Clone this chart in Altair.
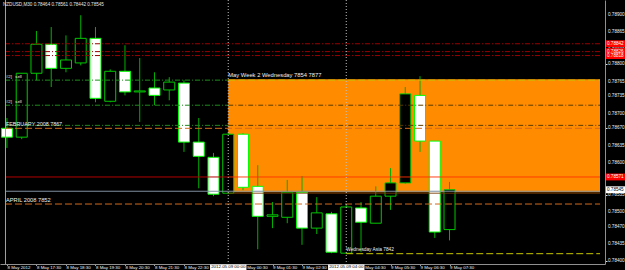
import altair as alt
import pandas as pd

# ---------------- data ----------------
bar_times = [
    "2012-05-08T16:30:00Z", "2012-05-08T17:00:00Z", "2012-05-08T17:30:00Z", "2012-05-08T18:00:00Z",
    "2012-05-08T18:30:00Z", "2012-05-08T19:00:00Z", "2012-05-08T19:30:00Z", "2012-05-08T20:00:00Z",
    "2012-05-08T20:30:00Z", "2012-05-08T21:00:00Z", "2012-05-08T21:30:00Z", "2012-05-08T22:00:00Z",
    "2012-05-08T22:30:00Z", "2012-05-08T23:00:00Z", "2012-05-08T23:30:00Z", "2012-05-09T00:00:00Z",
    "2012-05-09T00:30:00Z", "2012-05-09T01:00:00Z", "2012-05-09T01:30:00Z", "2012-05-09T02:00:00Z",
    "2012-05-09T02:30:00Z", "2012-05-09T03:00:00Z", "2012-05-09T03:30:00Z", "2012-05-09T04:00:00Z",
    "2012-05-09T04:30:00Z", "2012-05-09T05:00:00Z", "2012-05-09T05:30:00Z", "2012-05-09T06:00:00Z",
    "2012-05-09T06:30:00Z", "2012-05-09T07:00:00Z", "2012-05-09T07:30:00Z"]

opens = [0.78670, 0.78652, 0.78782, 0.78841, 0.78792, 0.78803, 0.78853, 0.78725, 0.78786, 0.78744,
         0.78752, 0.78748, 0.78762, 0.78642, 0.78611, 0.78538, 0.78658, 0.78552, 0.78491, 0.78489,
         0.78540, 0.78467, 0.78496, 0.78416, 0.78508, 0.78477, 0.78532, 0.78559, 0.78737, 0.78644,
         0.78464]
highs = [0.78691, 0.78782, 0.78868, 0.78876, 0.78859, 0.78900, 0.78876, 0.78790, 0.78839, 0.78813,
         0.78784, 0.78774, 0.78768, 0.78691, 0.78620, 0.78660, 0.78660, 0.78595, 0.78520, 0.78565,
         0.78573, 0.78530, 0.78500, 0.78514, 0.78520, 0.78552, 0.78589, 0.78754, 0.78776, 0.78644,
         0.78561]
lows = [0.78630, 0.78648, 0.78768, 0.78754, 0.78784, 0.78798, 0.78723, 0.78723, 0.78737, 0.78683,
        0.78717, 0.78727, 0.78622, 0.78548, 0.78532, 0.78536, 0.78544, 0.78424, 0.78467, 0.78477,
        0.78433, 0.78455, 0.78416, 0.78416, 0.78418, 0.78477, 0.78504, 0.78557, 0.78622, 0.78447,
        0.78442]
closes = [0.78652, 0.78782, 0.78841, 0.78792, 0.78809, 0.78853, 0.78731, 0.78786, 0.78744, 0.78746,
          0.78737, 0.78764, 0.78642, 0.78613, 0.78536, 0.78658, 0.78550, 0.78491, 0.78494, 0.78540,
          0.78467, 0.78498, 0.78418, 0.78510, 0.78479, 0.78532, 0.78559, 0.78740, 0.78644, 0.78459,
          0.78545]

# price axis tick labels
y_ticks = [0.78400, 0.78435, 0.78470, 0.78500, 0.78535, 0.78570, 0.78600, 0.78635,
           0.78670, 0.78700, 0.78735, 0.78765, 0.78800, 0.78830, 0.78865, 0.78900]

# time axis tick labels (23:30 and 03:30 sit under the vertical-line time boxes)
x_tick_times = ["2012-05-08T16:30:00Z", "2012-05-08T17:30:00Z", "2012-05-08T18:30:00Z",
                "2012-05-08T19:30:00Z", "2012-05-08T20:30:00Z", "2012-05-08T21:30:00Z",
                "2012-05-08T22:30:00Z", "2012-05-09T00:30:00Z",
                "2012-05-09T01:30:00Z", "2012-05-09T02:30:00Z",
                "2012-05-09T04:30:00Z", "2012-05-09T05:30:00Z", "2012-05-09T06:30:00Z",
                "2012-05-09T07:30:00Z"]
x_tick_labels = ["8 May 2012", "8 May 17:30", "8 May 18:30", "8 May 19:30", "8 May 20:30",
                 "8 May 21:30", "8 May 22:30", "9 May 00:30", "9 May 01:30",
                 "9 May 02:30", "9 May 04:30", "9 May 05:30", "9 May 06:30",
                 "9 May 07:30"]

view_start = "2012-05-08T16:26:00Z"
view_end = "2012-05-09T12:36:00Z"

# horizontal line objects
hl_price = [0.78842, 0.78826, 0.78818,
            0.78768, 0.78717, 0.78676,
            0.78768, 0.78717, 0.78676,
            0.78670, 0.78516,
            0.78571, 0.78571,
            0.78542, 0.78538,
            0.78415]
hl_start = [view_start, view_start, view_start,
            view_start, view_start, view_start,
            "2012-05-09T00:00:00Z", "2012-05-09T00:00:00Z", "2012-05-09T00:00:00Z",
            view_start, view_start,
            view_start, "2012-05-09T00:00:00Z",
            view_start, "2012-05-09T00:00:00Z",
            "2012-05-09T04:00:00Z"]
hl_end = [view_end] * 16
hl_end[3] = hl_end[4] = hl_end[5] = "2012-05-09T00:00:00Z"
hl_end[11] = "2012-05-09T00:00:00Z"
hl_color = ["#9b0000", "#9b0000", "#9b0000",
            "#1e8c1e", "#1e8c1e", "#1e8c1e",
            "#c8c000", "#5a3c00", "#5a3c00",
            "#d2691e", "#d2691e",
            "#b40000", "#ff3000",
            "#8090a0", "#7a3a00",
            "#c8c800"]
hl_style = ["dashdot", "dashdot", "dashdot",
            "dashdot", "dashdot", "dashdot",
            "dash", "dashdot", "dashdot",
            "dash", "dash",
            "solid", "solid",
            "solid", "solid",
            "dash"]

# rectangle object
rect_start = ["2012-05-09T00:00:00Z"]
rect_end = [view_end]
rect_top = [0.78770]
rect_bottom = [0.78540]

# vertical lines
vline_times = ["2012-05-09T00:00:00Z", "2012-05-09T04:00:00Z"]
vline_labels = ["2012.05.09 00:00", "2012.05.09 04:00"]

# text objects
txt_text = ["#2]", "sell", "#2]", "sell", "APRIL 2008 7852", "FEBRUARY 2008 7867",
            "May Week 2 Wednesday 7854 7877", "Wednesday Asia 7842"]
txt_time = ["2012-05-08T16:28:00Z", "2012-05-08T16:47:00Z", "2012-05-08T16:28:00Z",
            "2012-05-08T16:47:00Z", "2012-05-08T16:28:00Z", "2012-05-08T16:28:00Z",
            "2012-05-09T00:00:00Z", "2012-05-09T04:00:00Z"]
txt_price = [0.78768, 0.78768, 0.78717, 0.78717, 0.78516, 0.78670, 0.78770, 0.78415]
txt_size = [4.2, 4.2, 4.2, 4.2, 5.7, 5.4, 5.8, 4.8]

# price labels on the right scale
plabel_price = [0.78842, 0.78826, 0.78818, 0.78571, 0.78545]
plabel_fill = ["#ff0000", "#ff0000", "#ff0000", "#ff0000", "#ffffff"]
plabel_text = ["#ffffff", "#ffffff", "#ffffff", "#ffffff", "#000000"]

symbol = "NZDUSD,M30"

# ---------------- tables ----------------
candles = pd.DataFrame({"t": bar_times, "o": opens, "h": highs, "l": lows, "c": closes})
candles["body"] = ["#ffffff" if c < o else "#000000" for o, c in zip(opens, closes)]
candles["edge"] = ["#00ff00" if c < o else "#00c800" for o, c in zip(opens, closes)]

lines = pd.DataFrame({"price": hl_price, "start": hl_start, "end": hl_end,
                      "color": hl_color, "style": hl_style})
rect_df = pd.DataFrame({"start": rect_start, "end": rect_end, "top": rect_top, "bottom": rect_bottom})
vlines = pd.DataFrame({"t": vline_times, "label": vline_labels})
vt = pd.to_datetime(vlines["t"])
vlines["lo"] = (vt - pd.Timedelta(minutes=37)).dt.strftime("%Y-%m-%dT%H:%M:%SZ")
vlines["hi"] = (vt + pd.Timedelta(minutes=37)).dt.strftime("%Y-%m-%dT%H:%M:%SZ")
border = pd.DataFrame({"t": ["2012-05-08T16:27:00Z"]})
texts = pd.DataFrame({"text": txt_text, "t": txt_time, "price": txt_price, "size": txt_size})
ylabels = pd.DataFrame({"price": y_ticks, "label": [f"{v:.5f}" for v in y_ticks]})
plabels = pd.DataFrame({"price": plabel_price, "fill": plabel_fill, "tc": plabel_text})
plabels["lo"] = plabels["price"] - 0.00007
plabels["hi"] = plabels["price"] + 0.00007
plabels["label"] = [f"{p:.5f}" for p in plabel_price]
header = pd.DataFrame({"text": [f"{symbol}  {opens[-1]:.5f} {highs[-1]:.5f} {lows[-1]:.5f} {closes[-1]:.5f}"]})

# ---------------- scales / axes ----------------
x_tick_ms = [int(pd.Timestamp(s).value // 1_000_000) for s in x_tick_times]
label_expr = ("[" + ",".join(f"'{l}'" for l in x_tick_labels) + "][indexof(["
              + ",".join(str(m) for m in x_tick_ms) + "], time(datum.value))]")

xscale = alt.Scale(type="utc", domain=[
    alt.DateTime(year=2012, month=5, date=8, hours=16, minutes=26, utc=True),
    alt.DateTime(year=2012, month=5, date=9, hours=12, minutes=36, utc=True)])
yscale = alt.Scale(domain=[0.78394, 0.78931], zero=False, nice=False)

FONT = "Liberation Sans"
xaxis = alt.Axis(values=x_tick_ms, labelExpr=label_expr, title=None, grid=False,
                 labelFontSize=4.4, labelFont=FONT, labelColor="#f0f0f0", labelAlign="left",
                 labelBaseline="top", labelPadding=-0.5, tickSize=1.5, tickColor="#a0a0a0",
                 domainColor="#909090", labelOverlap=False, labelFlush=False)
yaxis = alt.Axis(orient="right", values=y_ticks, labels=False, title=None, grid=False,
                 tickSize=2, tickColor="#e0e0e0", domainColor="#909090")


def X(f):
    return alt.X(f"{f}:T", scale=xscale, axis=xaxis)


def Y(f):
    return alt.Y(f"{f}:Q", scale=yscale, axis=yaxis)


# ---------------- layers ----------------
rect = alt.Chart(rect_df).mark_rect(color="#ff8c00").encode(
    x=X("start"), x2="end:T", y=Y("top"), y2="bottom:Q")

wicks = alt.Chart(candles).mark_rule(color="#00b000", strokeWidth=1).encode(
    x=X("t"), y=Y("l"), y2="h:Q")

bodies = alt.Chart(candles).mark_bar(size=11, strokeWidth=1).encode(
    x=X("t"), y=Y("o"), y2="c:Q",
    fill=alt.Fill("body:N", scale=None), stroke=alt.Stroke("edge:N", scale=None))

dash_map = {"dashdot": [5, 2, 1, 2], "dash": [7, 3], "solid": [1, 0]}
line_layers = []
for style, dash in dash_map.items():
    sub = lines[lines["style"] == style]
    line_layers.append(
        alt.Chart(sub).mark_rule(strokeWidth=1, strokeDash=dash).encode(
            x=X("start"), x2="end:T", y=Y("price"),
            color=alt.Color("color:N", scale=None)))

vrules = alt.Chart(vlines).mark_rule(color="#c0c0c0", strokeWidth=1, strokeDash=[1, 2]).encode(
    x=X("t"), y=alt.datum(0.78931), y2=alt.datum(0.78394))

left_border = alt.Chart(border).mark_rule(color="#a0a0a0", strokeWidth=1).encode(
    x=X("t"), y=alt.datum(0.78931), y2=alt.datum(0.78394))

texts_left = alt.Chart(texts).mark_text(align="left", baseline="bottom", dy=-1.5, font=FONT,
                                        color="#f0f0f0").encode(
    x=X("t"), y=Y("price"), text="text:N", size=alt.Size("size:Q", scale=None))

header_layer = alt.Chart(header).mark_text(align="left", baseline="top", font=FONT, fontSize=4.6,
                                           color="#e8e8e8").encode(
    x=alt.value(3), y=alt.value(2), text="text:N")

y_label_layer = alt.Chart(ylabels).mark_text(align="left", baseline="middle", font=FONT,
                                             fontSize=4.6, color="#f0f0f0").encode(
    x=alt.value(608), y=Y("price"), text="label:N")

pl_boxes = alt.Chart(plabels).mark_rect().encode(
    x=alt.value(606), x2=alt.value(625), y=Y("lo"), y2="hi:Q",
    fill=alt.Fill("fill:N", scale=None))
pl_texts = alt.Chart(plabels).mark_text(align="left", baseline="middle", font=FONT,
                                        fontSize=4.6).encode(
    x=alt.value(607), y=Y("price"), text="label:N", color=alt.Color("tc:N", scale=None))

hl_boxes = alt.Chart(vlines).mark_rect(color="#ffffff").encode(
    x=X("lo"), x2="hi:T", y=alt.value(264.5), y2=alt.value(271))
hl_texts = alt.Chart(vlines).mark_text(align="center", baseline="top", font=FONT, fontSize=4.4,
                                       color="#000000").encode(
    x=X("t"), y=alt.value(265), text="label:N")

chart = alt.layer(
    rect, wicks, bodies, *line_layers, vrules, left_border,
    texts_left, header_layer, y_label_layer, pl_boxes, pl_texts, hl_boxes, hl_texts
).properties(
    width=605, height=264, background="#000000",
    padding={"left": 0, "top": 0, "right": 20, "bottom": 6},
    autosize=alt.AutoSizeParams(type="none"),
).configure_view(stroke=None)

chart.save("out.html", embed_options={"renderer": "svg", "actions": False})
